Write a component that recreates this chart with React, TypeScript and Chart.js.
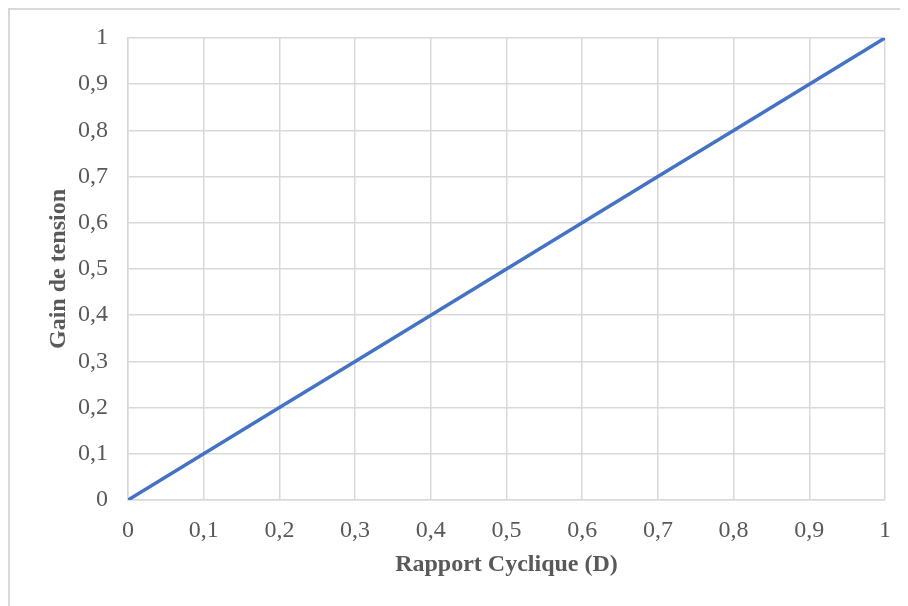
import React, { useEffect, useRef } from "react";
import { Chart, registerables } from "chart.js";

Chart.register(...registerables);

const dutyCycle = [0, 0.1, 0.2, 0.3, 0.4, 0.5, 0.6, 0.7, 0.8, 0.9, 1];
const voltageGain = [0, 0.1, 0.2, 0.3, 0.4, 0.5, 0.6, 0.7, 0.8, 0.9, 1];
const xTickLabels = ["0", "0,1", "0,2", "0,3", "0,4", "0,5", "0,6", "0,7", "0,8", "0,9", "1"];
const yTickLabels = ["0", "0,1", "0,2", "0,3", "0,4", "0,5", "0,6", "0,7", "0,8", "0,9", "1"];
const xTitle = "Rapport Cyclique (D)";
const yTitle = "Gain de tension";

export default function App() {
  const canvasRef = useRef<HTMLCanvasElement | null>(null);

  useEffect(() => {
    const ctx = canvasRef.current;
    if (!ctx) return;
    const font = "'Liberation Serif', 'Times New Roman', serif";
    const chart = new Chart(ctx, {
      type: "line",
      data: {
        datasets: [
          {
            data: dutyCycle.map((x, i) => ({ x, y: voltageGain[i] })),
            borderColor: "#4472C4",
            borderWidth: 3.5,
            pointRadius: 0,
            fill: false,
            tension: 0,
          },
        ],
      },
      options: {
        animation: false,
        responsive: false,
        maintainAspectRatio: false,
        layout: { padding: { top: 28, right: 23, bottom: 27, left: 34 } },
        plugins: { legend: { display: false }, tooltip: { enabled: false } },
        scales: {
          x: {
            type: "linear",
            min: 0,
            max: 1,
            ticks: {
              stepSize: 0.1,
              color: "#595959",
              font: { family: font, size: 24 },
              padding: 16,
              maxRotation: 0,
              callback: (_v: any, i: number) => xTickLabels[i],
            },
            grid: { color: "#d9d9d9", lineWidth: 1.5, drawTicks: false },
            border: { color: "#d9d9d9", width: 1.5 },
            title: {
              display: true,
              text: xTitle,
              color: "#595959",
              font: { family: font, size: 24, weight: "bold" },
              padding: 0,
            },
            afterFit: (s: any) => {
              s.height = 79;
              s.paddingLeft = 0;
              s.paddingRight = 0;
            },
          },
          y: {
            type: "linear",
            min: 0,
            max: 1,
            ticks: {
              stepSize: 0.1,
              color: "#595959",
              font: { family: font, size: 24 },
              padding: 20,
              callback: (_v: any, i: number) => yTickLabels[i],
            },
            grid: { color: "#d9d9d9", lineWidth: 1.5, drawTicks: false },
            border: { color: "#d9d9d9", width: 1.5 },
            title: {
              display: true,
              text: yTitle,
              color: "#595959",
              font: { family: font, size: 24, weight: "bold" },
              padding: 0,
            },
            afterFit: (s: any) => {
              s.width = 84;
              s.paddingTop = 0;
              s.paddingBottom = 0;
            },
          },
        },
      },
    });
    return () => chart.destroy();
  }, []);

  return (
    <div
      style={{
        width: 900,
        height: 598,
        boxSizing: "border-box",
        borderTop: "2px solid #d9d9d9",
        borderLeft: "2px solid #d9d9d9",
        background: "#fff",
        overflow: "hidden",
      }}
    >
      <canvas ref={canvasRef} width={898} height={596} style={{ display: "block" }} />
    </div>
  );
}
